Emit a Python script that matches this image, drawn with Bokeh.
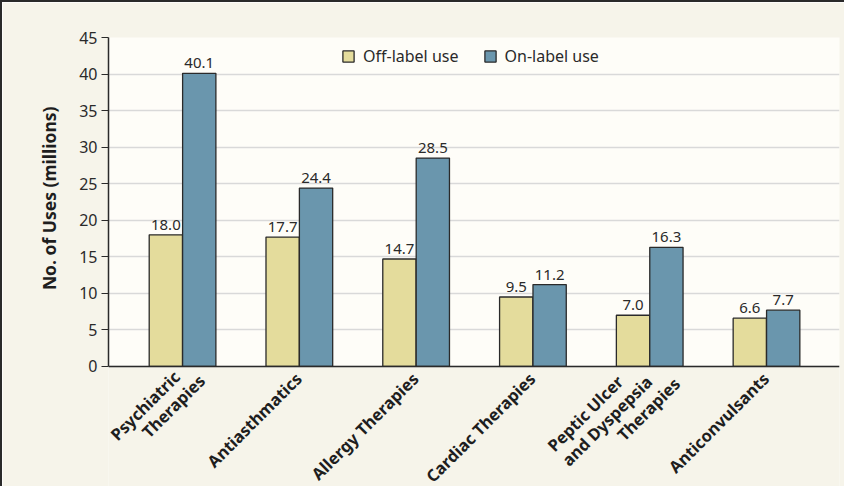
import math
from bokeh.plotting import figure
from bokeh.models import Legend, LegendItem, ColumnDataSource, FixedTicker, Range1d, Span, Title
from bokeh.embed import file_html
from bokeh.resources import INLINE
from bokeh.core.properties import value

categories = ["Psychiatric\nTherapies", "Antiasthmatics", "Allergy Therapies",
              "Cardiac Therapies", "Peptic Ulcer\nand Dyspepsia\nTherapies", "Anticonvulsants"]
off_label = [18.0, 17.7, 14.7, 9.5, 7.0, 6.6]
on_label = [40.1, 24.4, 28.5, 11.2, 16.3, 7.7]
y_ticks = [0, 5, 10, 15, 20, 25, 30, 35, 40, 45]
series_names = ["Off-label use", "On-label use"]
y_title = "No. of Uses (millions)"

OFF_COLOR = "#e4dc9c"
ON_COLOR = "#6a96ad"
EDGE = "#2a2a2a"
FONT = "Noto Sans"

Y_MIN, Y_MAX = 0, 45
X_START, X_END = -0.634, 5.625

idx = list(range(len(categories)))
src = ColumnDataSource(dict(
    x_off=[i - 0.143 for i in idx], x_on=[i + 0.143 for i in idx],
    off=off_label, on=on_label,
    off_txt=[f"{v:.1f}" for v in off_label], on_txt=[f"{v:.1f}" for v in on_label],
))

# frame extends below zero so the rotated category labels can be drawn inside it
p = figure(width=844, height=486, output_backend="svg", toolbar_location=None,
           x_range=Range1d(X_START, X_END), y_range=Range1d(-16.7, Y_MAX),
           min_border_left=106, min_border_right=7, min_border_top=35, min_border_bottom=0)
p.background_fill_color = "#f6f4ea"
p.border_fill_color = "#f6f4ea"
p.outline_line_color = None

# white plot area
p.quad(left=[X_START], right=[X_END], bottom=[Y_MIN], top=[Y_MAX], fill_color="#fefdf8",
       line_color=None, level="image")

r_off = p.vbar(x="x_off", top="off", width=0.285, source=src, fill_color=OFF_COLOR,
               line_color=EDGE, line_width=1.3)
r_on = p.vbar(x="x_on", top="on", width=0.285, source=src, fill_color=ON_COLOR,
              line_color=EDGE, line_width=1.3)

for xcol, tcol, ycol in (("x_off", "off_txt", "off"), ("x_on", "on_txt", "on")):
    p.text(x=xcol, y=ycol, text=tcol, source=src, text_align="center", text_baseline="bottom",
           y_offset=-5, text_font=value(FONT), text_font_size="15px", text_color="#2a2a2a")

# y axis
p.yaxis.ticker = FixedTicker(ticks=y_ticks)
p.yaxis.bounds = (Y_MIN, Y_MAX)
p.yaxis.minor_tick_line_color = None
p.yaxis.major_tick_in = 0
p.yaxis.major_tick_out = 7
p.yaxis.major_tick_line_color = EDGE
p.yaxis.axis_line_color = EDGE
p.yaxis.axis_line_width = 1.5
p.yaxis.major_label_text_font = FONT
p.yaxis.major_label_text_font_size = "16px"
p.yaxis.major_label_text_color = "#2a2a2a"
p.yaxis.major_label_standoff = 4

p.add_layout(Title(text=y_title, align="right", offset=69, vertical_align="middle",
                   text_font=FONT, text_font_style="bold", text_font_size="17.5px",
                   text_color="#1e1e1e", standoff=30), "left")

# x axis: line at zero, labels drawn as rotated text
p.xaxis.visible = False
p.add_layout(Span(location=0, dimension="width", line_color=EDGE, line_width=1.5))

p.xgrid.grid_line_color = None
p.ygrid.ticker = FixedTicker(ticks=y_ticks)
p.ygrid.grid_line_color = "#d9d9d9"
p.ygrid.grid_line_width = 1.3

# per-line offsets (px) of each label line's end from its tick
line_offsets = {
    0: [(-14, -1), (11, 3)],
    4: [(-38, 4), (-9, 4), (19, 6)],
}
lx, ly, lt, ldx, ldy = [], [], [], [], []
for i, cat in enumerate(categories):
    for line, (dx, dy) in zip(cat.split("\n"), line_offsets.get(i, [(-9, 1)])):
        lx.append(i); ly.append(0); lt.append(line); ldx.append(dx); ldy.append(dy)
p.text(x=lx, y=ly, text=lt, x_offset=ldx, y_offset=ldy, angle=math.pi / 4,
       text_align="right", text_baseline="top", text_font=value(FONT),
       text_font_style="bold", text_font_size="16.5px", text_color="#1e1e1e")

legend = Legend(items=[LegendItem(label=series_names[0], renderers=[r_off]),
                       LegendItem(label=series_names[1], renderers=[r_on])],
                orientation="horizontal", location=(233, 421), padding=0, margin=0,
                spacing=24, label_standoff=8, glyph_width=14, glyph_height=14,
                label_height=14, label_text_font=FONT, label_text_font_size="16px",
                label_text_color="#2a2a2a", background_fill_alpha=0, border_line_color=None)
p.add_layout(legend, "center")

p.styles = {"border-top": "2px solid #2a2a2a", "border-left": "2px solid #2a2a2a"}

open("out.html", "w").write(file_html(p, INLINE))
